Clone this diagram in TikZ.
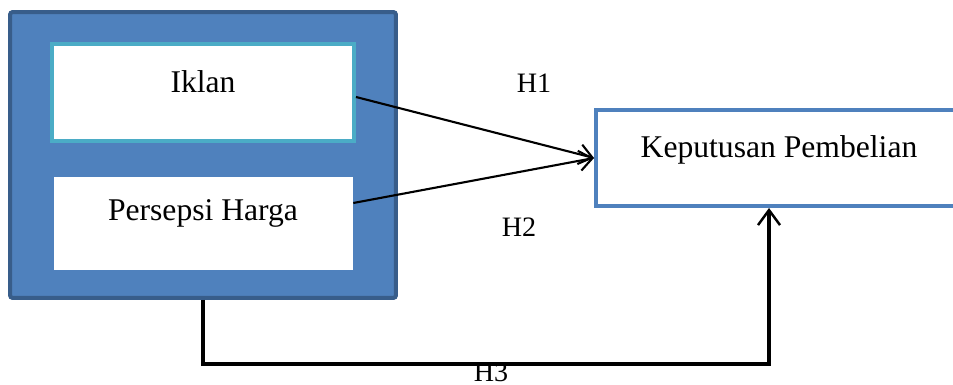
\documentclass[tikz,border=0pt]{standalone}
\usepackage{fontspec}
\setmainfont{Liberation Serif}
\usepackage{tikz}
\usepackage{xcolor}
\usetikzlibrary{positioning,arrows.meta}

\definecolor{grpfill}{HTML}{4F81BD}
\definecolor{grpedge}{HTML}{385D8A}
\definecolor{ikedge}{HTML}{4BACC6}

\begin{document}
\begin{tikzpicture}[x=0.02cm,y=0.02cm,
    boxtext/.style={font=\fontsize{18}{22}\selectfont,inner sep=0pt},
    hlabel/.style={font=\fontsize{16}{19}\selectfont,inner sep=0pt},
    varbox/.style={draw,fill=white,line width=0.08cm,inner sep=0pt},
    hyp/.style={line width=1.2pt,-{Straight Barb[length=2.6mm,width=4mm,line width=1.2pt]}},
    hyptotal/.style={line width=2pt,-{Straight Barb[length=3mm,width=4.4mm,line width=1.4pt]}}]

  \useasboundingbox (0,0) rectangle (953,385);

  % ---------- left: independent variables ----------
  \node[varbox,draw=grpedge,fill=grpfill,rounded corners=1.5pt,
        minimum width=7.72cm,minimum height=5.72cm] (grp) at (203,230) {};
  \node[varbox,draw=ikedge,minimum width=6.04cm,minimum height=1.94cm] (ik) at (203,292.5) {};
  \node[boxtext] (iktxt) at (203,303) {Iklan};
  \node[fill=white,inner sep=0pt,minimum width=5.98cm,minimum height=1.86cm] (ps) at (203.5,161.5) {};
  \node[boxtext] (pstxt) at (203,172) {Persepsi Harga};

  % ---------- right: dependent variable ----------
  \node[varbox,draw=grpfill,minimum width=7.2cm,minimum height=1.92cm] (kp) at (776,227) {};
  \node[boxtext] (kptxt) at (779,235) {Keputusan Pembelian};

  % hypotheses
  \draw[hyp] ([yshift=-0.09cm]ik.east) -- (kp.west);
  \draw[hyp] ([yshift=0.41cm]ps.east) -- (kp.west);
  \draw[hyptotal] (grp.south) -- ++(0,-64) -| ([xshift=-0.14cm]kp.south);

  \node[hlabel] (h1) at (534,302) {H1};
  \node[hlabel] (h2) at (519,158) {H2};
  \node[hlabel] (h3) at (491,13) {H3};

\end{tikzpicture}
\end{document}
